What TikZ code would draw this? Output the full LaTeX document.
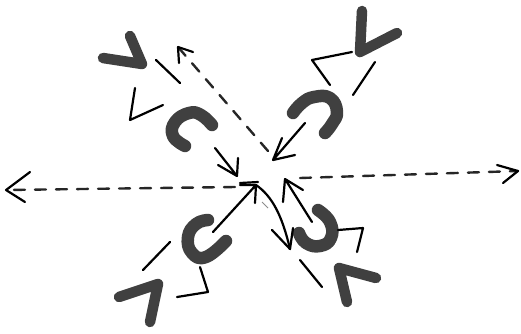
\documentclass[tikz,border=0pt]{standalone}
\begin{document}
\begin{tikzpicture}[x=1pt,y=-1pt,
  blob/.style={line width=12.5pt, line cap=round, line join=round, black!75},
  vee/.style={line width=10.5pt, line cap=round, line join=round, black!75},
  pen/.style={line width=2.2pt, line cap=round, line join=round, black},
  dashline/.style={line width=2.4pt, line cap=round, black!85, dash pattern=on 11pt off 10pt},
]
\useasboundingbox (0,0) rectangle (521,333);

% ---- thick C shapes ----
\draw[blob] plot[smooth, tension=0.8] coordinates {(212,125) (201,115) (189,113) (175,122) (173,136) (185,146)};
\draw[blob] plot[smooth, tension=0.8] coordinates {(293,113) (302,103) (314,97) (330,98) (337,112) (332,124) (325,133)};
\draw[blob] plot[smooth, tension=0.8] coordinates {(208,220) (196,224) (188,237) (192,253) (206,257) (226,241)};
\draw[blob] plot[smooth, tension=0.8] coordinates {(318,210) (330,222) (331,238) (320,246) (306,243) (299,233)};

% ---- thick V shapes ----
\draw[vee] (130,36) -- (142,64) -- (103,58);
\draw[vee] (362,11) -- (360,52) -- (397,33);
\draw[vee] (119,297) -- (158,284) -- (150,322);
\draw[vee] (376,278) -- (339,268) -- (347,302);

% ---- zigzags and strokes ----
\draw[pen] (135,88) -- (130,120) -- (163,105);
\draw[pen] (156,60) -- (180,83);
\draw[pen] (330,85) -- (312,60) -- (352,52);
\draw[pen] (375,62) -- (353,95);
\draw[pen] (200,267) -- (208,292) -- (177,297);
\draw[pen] (143,270) -- (170,242);
\draw[pen] (338,230) -- (363,228) -- (357,252);
\draw[pen] (300,260) -- (322,287);

% ---- arrows into the centre ----
\coordinate (trs) at (305,123); \coordinate (trt) at (273,160);
\draw[pen] (trs) -- (trt) (282,138) -- (trt) -- (295,155);
\coordinate (tls) at (215,148); \coordinate (tlt) at (237,176);
\draw[pen] (tls) -- (tlt) (218,165) -- (tlt) -- (238,158);
\coordinate (lls) at (213,232); \coordinate (llt) at (256,185);
\draw[pen] (lls) -- (llt) (240,185) -- (llt) -- (255,203);
\coordinate (lrs) at (312,222); \coordinate (lrt) at (285,179);
\draw[pen] (lrs) -- (lrt) (283,202) -- (lrt) -- (303,190);

% ---- centre bar and curved arrow ----
\draw[pen] (240,183) -- (258,182);
\coordinate (cvt) at (290,249);
\draw[pen] (llt) .. controls (272,196) and (282,215) .. (cvt);
\draw[pen] (272,230) -- (cvt) -- (293,228);
\draw[line width=0.8pt, black!45] (262,202) -- (268,208);

% ---- dashed arrows ----
\coordinate (dc1) at (268,151); \coordinate (dtl) at (178,47);
\draw[dashline] (dc1) -- (dtl);
\draw[pen] (179,63) -- (dtl) -- (193,52);
\coordinate (dc2) at (235,187); \coordinate (dlt) at (6,190);
\draw[dashline] (dc2) -- (dlt);
\draw[pen] (30,172) -- (dlt) -- (25,202);
\coordinate (dc3) at (300,178); \coordinate (drt) at (518,171);
\draw[dashline] (dc3) -- (drt);
\draw[pen] (497,165) -- (drt) -- (503,183);
\end{tikzpicture}
\end{document}
